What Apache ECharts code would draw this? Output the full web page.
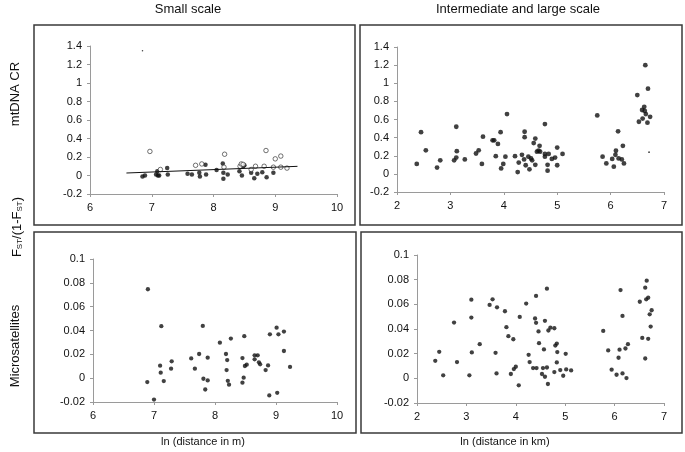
<!DOCTYPE html>
<html>
<head>
<meta charset="utf-8">
<script src="https://cdn.jsdelivr.net/npm/echarts@6/dist/echarts.min.js"></script>
<style>
html,body{margin:0;padding:0;background:#fff;}
#c{width:685px;height:452px;}
</style>
</head>
<body>
<div id="c"></div>
<script>
// ---- data ----
const columnTitles = ['Small scale', 'Intermediate and large scale'];
const xAxisTitles = ['ln (distance in m)', 'ln (distance in km)'];
const rowTitles = ['mtDNA CR', 'Microsatellites'];

// Small scale, mtDNA CR: filled circles
const smallMtFilled = [
  [6.85,-0.01],[6.89,0.0],[7.07,0.01],[7.10,0.0],[7.09,0.045],[7.12,0.0],
  [7.25,0.08],[7.26,0.01],[7.58,0.02],[7.65,0.01],[7.77,0.03],[7.78,-0.01],
  [7.87,0.115],[7.88,0.01],[8.05,0.06],[8.15,0.13],[8.16,0.03],[8.16,-0.035],
  [8.23,0.01],[8.42,0.045],[8.46,0.0],[8.48,0.10],[8.50,0.11],[8.61,0.03],
  [8.66,-0.03],[8.71,0.02],[8.79,0.035],[8.86,-0.02],[8.97,0.03]
];
// Small scale, mtDNA CR: open circles
const smallMtOpen = [
  [6.97,0.26],[7.14,0.065],[7.71,0.11],[7.81,0.125],[8.18,0.23],[8.17,0.09],
  [8.43,0.10],[8.45,0.125],[8.48,0.12],[8.61,0.065],[8.68,0.10],[8.82,0.10],
  [8.85,0.27],[8.97,0.09],[9.00,0.18],[9.09,0.21],[9.09,0.09],[9.19,0.08]
];
// Small scale, mtDNA CR: regression line end points
const smallMtTrend = [[6.59,0.027],[9.36,0.099]];
// specks in the scan
const smallMtSpeck = [[6.85,1.35]];

// Intermediate and large scale, mtDNA CR
const largeMt = [
  [2.37,0.11],[2.45,0.46],[2.54,0.26],[2.75,0.07],[2.81,0.15],[3.07,0.15],
  [3.11,0.52],[3.12,0.25],[3.11,0.18],[3.27,0.16],[3.48,0.225],[3.53,0.26],
  [3.59,0.11],[3.61,0.41],[3.79,0.37],[3.82,0.37],[3.85,0.195],[3.89,0.33],
  [3.94,0.46],[3.95,0.06],[3.99,0.11],[4.03,0.19],[4.06,0.66],[4.21,0.195],
  [4.26,0.02],[4.28,0.125],[4.34,0.21],[4.38,0.16],[4.39,0.465],[4.39,0.405],
  [4.41,0.095],[4.46,0.19],[4.48,0.05],[4.51,0.17],[4.53,0.15],[4.56,0.34],
  [4.59,0.39],[4.59,0.10],[4.62,0.245],[4.65,0.255],[4.67,0.31],[4.68,0.245],
  [4.77,0.55],[4.77,0.22],[4.77,0.19],[4.82,0.035],[4.82,0.10],[4.84,0.22],
  [4.90,0.165],[4.96,0.18],[5.00,0.29],[5.00,0.095],[5.10,0.22],[5.75,0.645],
  [5.85,0.19],[5.92,0.115],[6.03,0.165],[6.06,0.08],[6.09,0.21],[6.10,0.255],
  [6.14,0.47],[6.15,0.17],[6.21,0.16],[6.23,0.31],[6.25,0.115],[6.50,0.87],
  [6.53,0.575],[6.59,0.705],[6.60,0.61],[6.63,0.74],[6.64,0.695],[6.65,1.20],
  [6.66,0.66],[6.70,0.94],[6.69,0.565],[6.74,0.63]
];
const largeMtSpeck = [[6.72,0.24]];

// Small scale, microsatellites
const smallMsat = [
  [6.89,-0.0033],[6.90,0.0746],[7.00,-0.018],[7.10,0.0105],[7.11,0.0046],
  [7.12,0.0436],[7.16,-0.0024],[7.28,0.008],[7.29,0.0141],[7.61,0.0166],
  [7.67,0.008],[7.74,0.0203],[7.80,0.0438],[7.81,-0.0005],[7.84,-0.0095],
  [7.88,-0.0019],[7.88,0.0172],[8.08,0.0298],[8.18,0.0203],[8.19,0.0068],
  [8.20,0.0152],[8.21,-0.0022],[8.23,-0.0055],[8.26,0.0332],[8.45,-0.0038],
  [8.45,0.0169],[8.47,0.0004],[8.48,0.0352],[8.49,0.0102],[8.52,0.0113],
  [8.65,0.0192],[8.65,0.0158],[8.70,0.0192],[8.72,0.0133],[8.74,0.0116],
  [8.83,0.0068],[8.87,0.0107],[8.89,-0.0145],[8.90,0.0368],[9.01,0.0424],
  [9.02,-0.0123],[9.04,0.0368],[9.13,0.0391],[9.13,0.0228],[9.23,0.0094]
];

// Intermediate and large scale, microsatellites
const largeMsat = [
  [2.37,0.0142],[2.45,0.0215],[2.53,0.0024],[2.75,0.0452],[2.81,0.0132],
  [3.06,0.0024],[3.10,0.0638],[3.10,0.0493],[3.11,0.021],[3.27,0.0277],
  [3.47,0.0595],[3.53,0.0641],[3.59,0.0207],[3.61,0.004],[3.62,0.0576],
  [3.78,0.0544],[3.81,0.0415],[3.85,0.0342],[3.90,0.0035],[3.95,0.0317],
  [3.96,0.0075],[4.00,0.0094],[4.06,-0.0057],[4.08,0.0498],[4.21,0.0606],
  [4.26,0.0191],[4.28,0.0132],[4.35,0.0083],[4.39,0.0485],[4.41,0.045],
  [4.41,0.0668],[4.42,0.0083],[4.46,0.038],[4.47,0.0285],[4.53,0.0035],
  [4.55,0.0083],[4.57,0.0234],[4.59,0.0466],[4.59,0.0013],[4.63,0.0088],
  [4.63,0.0727],[4.65,-0.0046],[4.66,0.0388],[4.70,0.0411],[4.78,0.0406],
  [4.78,0.0051],[4.80,0.0266],[4.83,0.0282],[4.83,0.0129],[4.84,0.0213],
  [4.90,0.0067],[4.96,0.0021],[5.01,0.0199],[5.02,0.0072],[5.12,0.0064],
  [5.77,0.0384],[5.87,0.0226],[5.94,0.0070],[6.04,0.0029],[6.08,0.0167],
  [6.10,0.0232],[6.12,0.0716],[6.16,0.0506],[6.16,0.004],[6.22,0.0242],
  [6.24,0.0002],[6.27,0.0277],[6.51,0.0621],[6.56,0.0328],[6.62,0.0161],
  [6.62,0.0735],[6.65,0.0792],[6.64,0.0641],[6.68,0.0654],[6.68,0.032],
  [6.71,0.0519],[6.73,0.042],[6.75,0.0552]
];

// axis ranges
const smallX = {min: 6, max: 10, interval: 1};
const largeX = {min: 2, max: 7, interval: 1};
const mtY = {min: -0.2, max: 1.4, interval: 0.2};
const msatY = {min: -0.02, max: 0.1, interval: 0.02};

// ---- chart ----
const FONT = '"Liberation Sans", Arial, sans-serif';
const axisCommon = {
  axisLine: {show: true, onZero: false, lineStyle: {color: '#9a9a9a', width: 1}},
  axisTick: {show: true, length: 3, lineStyle: {color: '#9a9a9a'}},
  axisLabel: {color: '#111', fontSize: 11, fontFamily: FONT},
  splitLine: {show: false}
};
function xa(gi, r) { return Object.assign({type: 'value', gridIndex: gi}, r, axisCommon); }
function ya(gi, r) { return Object.assign({type: 'value', gridIndex: gi}, r, axisCommon,
  {axisLabel: {color: '#111', fontSize: 11, fontFamily: FONT, margin: 8}}); }

const dot = {color: '#111'};
function sc(gi, data, size, style) {
  return {type: 'scatter', xAxisIndex: gi, yAxisIndex: gi, data: data, symbolSize: size,
    itemStyle: style || dot, silent: true, animation: false};
}

const boxStyle = {fill: 'none', stroke: '#3a3a3a', lineWidth: 1.5};
function box(x, y, w, h) { return {type: 'rect', shape: {x: x, y: y, width: w, height: h}, style: boxStyle, silent: true}; }
function txt(x, y, t, size, rot) {
  return {type: 'text', x: x, y: y, rotation: rot || 0, silent: true,
    style: {text: t, fontSize: size, fontFamily: FONT, fill: '#111', align: 'center', verticalAlign: 'middle'}};
}

const chart = echarts.init(document.getElementById('c'), null, {renderer: 'canvas'});
chart.setOption({
  backgroundColor: '#fff',
  animation: false,
  grid: [
    {left: 90, top: 46, width: 247, height: 148},
    {left: 397, top: 47, width: 267, height: 145},
    {left: 93, top: 259, width: 244, height: 143},
    {left: 417, top: 255, width: 247, height: 148}
  ],
  xAxis: [xa(0, smallX), xa(1, largeX), xa(2, smallX), xa(3, largeX)],
  yAxis: [ya(0, mtY), ya(1, mtY), ya(2, msatY), ya(3, msatY)],
  series: [
    sc(0, smallMtFilled, 4.5),
    sc(0, smallMtOpen, 4.5, {color: '#fff', borderColor: '#222', borderWidth: 0.8}),
    {type: 'line', xAxisIndex: 0, yAxisIndex: 0, data: smallMtTrend, symbol: 'none',
      lineStyle: {color: '#111', width: 1}, silent: true},
    sc(0, smallMtSpeck, 1.5),
    sc(1, largeMt, 4.8),
    sc(1, largeMtSpeck, 1.8),
    sc(2, smallMsat, 4.3),
    sc(3, largeMsat, 4.3)
  ],
  graphic: [
    box(34, 25, 321, 200),
    box(360, 25, 322, 200),
    box(34, 232, 322, 201),
    box(361, 232, 321, 201),
    txt(188, 9, columnTitles[0], 13),
    txt(518, 9, columnTitles[1], 13),
    txt(203, 442, xAxisTitles[0], 11),
    txt(505, 442, xAxisTitles[1], 11),
    txt(15, 94, rowTitles[0], 13, Math.PI / 2),
    txt(15, 346, rowTitles[1], 13, Math.PI / 2),
    {type: 'text', x: 17, y: 227, rotation: Math.PI / 2, silent: true,
      style: {text: '{a|F}{b|ST}{a|/(1-F}{b|ST}{a|)}', align: 'center', verticalAlign: 'middle', fill: '#111',
        rich: {a: {fontSize: 13, fontFamily: FONT, fill: '#111'},
               b: {fontSize: 8, fontFamily: FONT, fill: '#111', verticalAlign: 'bottom', padding: [6, 0, 0, 0]}}}}
  ]
});
</script>
</body>
</html>
